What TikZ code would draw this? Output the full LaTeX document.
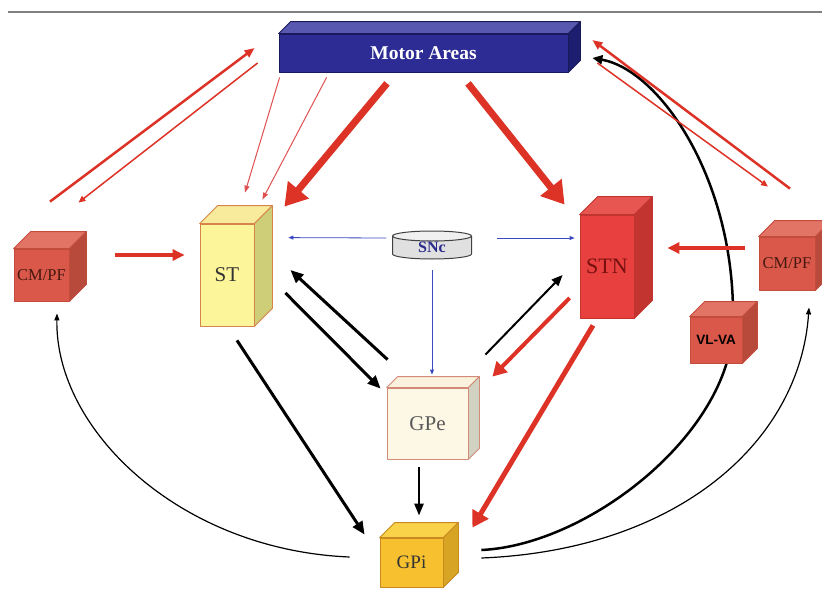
\documentclass[tikz,border=0pt]{standalone}
\usepackage{fontspec}
\setmainfont{Liberation Serif}
\newfontfamily\vlfont{Liberation Sans}
\usetikzlibrary{arrows.meta,backgrounds}

\definecolor{mafront}{RGB}{44,44,148}
\definecolor{matop}{RGB}{88,88,176}
\definecolor{maside}{RGB}{30,30,112}
\definecolor{maline}{RGB}{26,26,90}
\definecolor{stfront}{RGB}{252,245,154}
\definecolor{sttop}{RGB}{248,236,156}
\definecolor{stside}{RGB}{206,206,120}
\definecolor{stline}{RGB}{214,132,74}
\definecolor{cmfront}{RGB}{217,88,74}
\definecolor{cmtop}{RGB}{226,116,102}
\definecolor{cmside}{RGB}{184,74,60}
\definecolor{cmline}{RGB}{196,76,60}
\definecolor{stnfront}{RGB}{232,64,62}
\definecolor{stntop}{RGB}{232,86,82}
\definecolor{stnside}{RGB}{194,52,48}
\definecolor{gpefront}{RGB}{253,248,230}
\definecolor{gpetop}{RGB}{250,242,220}
\definecolor{gpeside}{RGB}{210,210,194}
\definecolor{gpeline}{RGB}{212,138,120}
\definecolor{gpifront}{RGB}{246,192,46}
\definecolor{gpitop}{RGB}{249,210,74}
\definecolor{gpiside}{RGB}{215,164,36}
\definecolor{gpiline}{RGB}{200,138,32}
\definecolor{arrred}{RGB}{221,50,38}
\definecolor{thinred}{RGB}{224,80,80}
\definecolor{sncblue}{RGB}{58,74,192}

% top and side faces of a box drawn on a front-face node
\newcommand{\cubefaces}[5]{%
  \draw[#5, fill=#3, line width=0.8pt, line join=round] (#1.north west) -- ++(#2,-#2) -- ([shift={(#2,-#2)}]#1.north east) -- (#1.north east) -- cycle;
  \draw[#5, fill=#4, line width=0.8pt, line join=round] (#1.north east) -- ++(#2,-#2) -- ([shift={(#2,-#2)}]#1.south east) -- (#1.south east) -- cycle;
}

\begin{document}
\begin{tikzpicture}[x=1pt,y=-1pt,
  box/.style={draw, line width=0.8pt, inner sep=0pt, line join=round},
  bigred/.style={draw=arrred, line width=7pt, -{Triangle[length=22pt,width=26pt]}},
  midred/.style={draw=arrred, line width=3.5pt, -{Triangle[length=12pt,width=11pt]}},
  thinarr/.style={draw=thinred, line width=1pt, -{Triangle[length=7pt,width=5pt]}},
  blackarr/.style={draw=black, line width=3pt, -{Triangle[length=13pt,width=11pt]}},
  bluearr/.style={draw=sncblue, line width=0.8pt, -{Triangle[length=5pt,width=4pt]}},
  loop/.style={draw=black, line width=1.2pt, -{Triangle[length=7pt,width=5pt]}}]
\useasboundingbox (0,0) rectangle (822,589);
\draw[gray, line width=1.2pt] (8,12) -- (822,12);

% boxes
\node[box, fill=mafront, draw=maline, minimum width=289pt, minimum height=38pt, text=white, font=\bfseries\fontsize{19.5}{22}\selectfont] (MA) at (423.5,53) {Motor Areas};
\cubefaces{MA}{12}{matop}{maside}{maline}
\node[box, fill=stfront, draw=stline, minimum width=54pt, minimum height=102pt, text=black!80, font=\fontsize{21}{24}\selectfont] (ST) at (227,275) {ST};
\cubefaces{ST}{18}{sttop}{stside}{stline}
\node[box, fill=cmfront, draw=cmline, minimum width=55pt, minimum height=52pt, text={rgb,255:red,70;green,24;blue,16}, font=\fontsize{16.5}{18}\selectfont] (CMPFL) at (41.5,275) {CM/PF};
\cubefaces{CMPFL}{17}{cmtop}{cmside}{cmline}
\node[box, fill=stnfront, draw=stnside, minimum width=54pt, minimum height=103pt, text={rgb,255:red,120;green,16;blue,16}, font=\fontsize{22}{26}\selectfont] (STN) at (607,266.5) {STN};
\cubefaces{STN}{18}{stntop}{stnside}{stnside}
\node[box, fill=cmfront, draw=cmline, minimum width=56pt, minimum height=53pt, text={rgb,255:red,70;green,24;blue,16}, font=\fontsize{16.5}{18}\selectfont] (CMPFR) at (787,263.5) {CM/PF};
\cubefaces{CMPFR}{16}{cmtop}{cmside}{cmline}
\node[box, fill=cmfront, draw=cmline, minimum width=52pt, minimum height=46pt, font=\vlfont\bfseries\fontsize{13.5}{15}\selectfont] (VLVA) at (716,340) {VL-VA};
\cubefaces{VLVA}{15}{cmtop}{cmside}{cmline}
\node[box, fill=gpefront, draw=gpeline, minimum width=81pt, minimum height=71pt, text=black!65, font=\fontsize{21}{24}\selectfont] (GPe) at (427.5,423.5) {GPe};
\cubefaces{GPe}{11}{gpetop}{gpeside}{gpeline}
\node[box, fill=gpifront, draw=gpiline, minimum width=63pt, minimum height=49pt, text=black!80, font=\fontsize{19}{22}\selectfont] (GPi) at (411.5,562.5) {GPi};
\cubefaces{GPi}{15}{gpitop}{gpiside}{gpiline}

% SNc disc
\draw[black!75, fill=black!12, line width=1pt] (392.5,236) -- (392.5,254) arc[start angle=180, end angle=0, x radius=39.5, y radius=5] -- (471.5,236);
\draw[black!75, fill=black!6, line width=1pt] (432,236) ellipse [x radius=39.5, y radius=5];
\node[minimum width=79pt, minimum height=23pt, inner sep=0pt, text={rgb,255:red,42;green,42;blue,138}, font=\bfseries\fontsize{16}{18}\selectfont] (SNc) at (432,247) {SNc};

% red projections
\draw[bigred] ([shift={(-36.5,11)}]MA.south) -- ([shift={(30,-17)}]ST.north east);
\draw[bigred] ([shift={(44.5,11)}]MA.south) -- ([shift={(-15,-10)}]STN.north west);
\draw[thinarr] ([shift={(1,5)}]MA.south west) -- ([shift={(18,-31)}]ST.north);
\draw[thinarr] ([shift={(48,5)}]MA.south west) -- ([shift={(8,-24)}]ST.north east);
\draw[draw=arrred, line width=2.5pt, -{Triangle[length=10pt,width=8pt]}] ([shift={(8.5,-47)}]CMPFL.north) -- ([shift={(-24,-5)}]MA.west);
\draw[draw=arrred, line width=1.5pt, -{Triangle[length=7pt,width=6pt]}] ([shift={(-21,10)}]MA.west) -- ([shift={(9,-46)}]CMPFL.north east);
\draw[draw=arrred, line width=2.5pt, -{Triangle[length=10pt,width=8pt]}] ([shift={(3,-48)}]CMPFR.north) -- ([shift={(24,-13)}]MA.east);
\draw[draw=arrred, line width=1.5pt, -{Triangle[length=7pt,width=6pt]}] ([shift={(29,10)}]MA.east) -- ([shift={(-19,-50)}]CMPFR.north);
\draw[midred] ([shift={(46,-20)}]CMPFL.east) -- ([shift={(-15,-20)}]ST.west);
\draw[midred] ([shift={(-14,-15.5)}]CMPFR.west) -- ([shift={(33,-18.5)}]STN.east);
\draw[draw=arrred, line width=4pt, -{Triangle[length=14pt,width=15pt]}] ([shift={(-10,31.5)}]STN.west) -- ([shift={(24,-11)}]GPe.north east);
\draw[draw=arrred, line width=5pt, -{Triangle[length=16pt,width=18pt]}] ([shift={(-14,7)}]STN.south) -- ([shift={(29,-10)}]GPi.north east);

% SNc
\draw[bluearr] ([shift={(-6,-9)}]SNc.west) -- ([shift={(34,14)}]ST.north east);
\draw[bluearr] ([shift={(25.5,-9)}]SNc.east) -- ([shift={(-5,-28.5)}]STN.west);
\draw[bluearr] ([shift={(0,11.5)}]SNc.south) -- ([shift={(4.5,-13)}]GPe.north);

% black projections
\draw[blackarr] ([shift={(10,14)}]ST.south) -- ([shift={(-15,-3)}]GPi.north west);
\draw[blackarr] ([shift={(31,18)}]ST.east) -- ([shift={(-6,1)}]GPe.north west);
\draw[blackarr] ([shift={(1,-28)}]GPe.north west) -- ([shift={(36,-5)}]ST.east);
\draw[draw=black, line width=2pt, -{Triangle[length=11pt,width=9pt]}] ([shift={(17,-33)}]GPe.north east) -- ([shift={(-17,8.5)}]STN.west);
\draw[draw=black, line width=2.5pt, -{Triangle[length=12pt,width=9pt]}] ([shift={(-8.5,8)}]GPe.south) -- ([shift={(7.5,-22)}]GPi.north);

% GPi outputs
\draw[loop] ([shift={(-30,-5.5)}]GPi.west) .. controls (180,550) and (55,430) .. ([shift={(15.5,12)}]CMPFL.south);
\draw[loop] ([shift={(38,-4.5)}]GPi.east) .. controls (680,550) and (800,440) .. ([shift={(22,17)}]CMPFR.south);
\begin{scope}[on background layer]
\draw[draw=black, line width=2.5pt, -{Triangle[length=10pt,width=9pt]}] ([shift={(38,-12.5)}]GPi.east) .. controls (590,545) and (735,430) .. (733,320) .. controls (735,180) and (660,70) .. ([shift={(24,5)}]MA.east);
\end{scope}
\end{tikzpicture}
\end{document}
